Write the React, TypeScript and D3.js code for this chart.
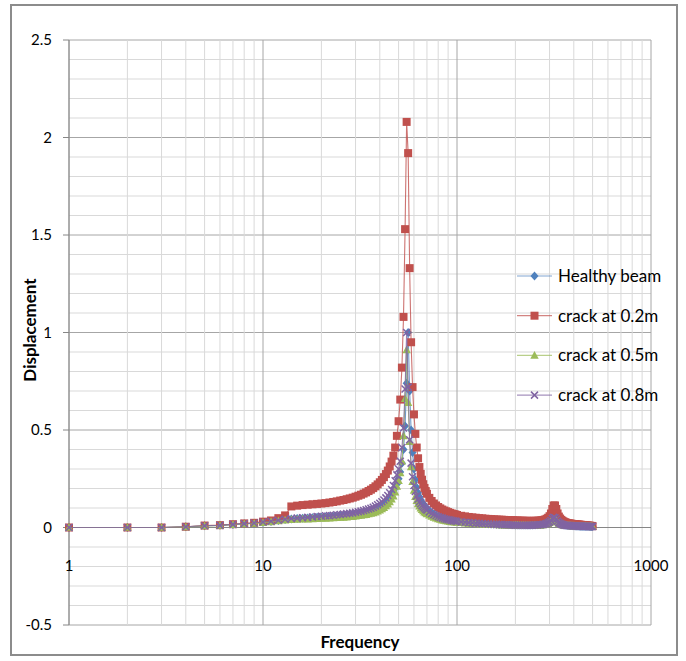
import * as d3 from "d3";

// frequency (Hz) of each computed point
const freqs = [
  1, 2, 3, 4, 5, 6, 7, 8, 9, 10,
  11, 12, 13, 14, 15, 16, 17, 18, 19, 20,
  21, 22, 23, 24, 25, 26, 27, 28, 29, 30,
  31, 32, 33, 34, 35, 36, 37, 38, 39, 40,
  41, 42, 43, 44, 45, 46, 47, 48, 49, 50,
  51, 52, 53, 54, 55, 56, 57, 58, 59, 60,
  61, 62, 63, 64, 65, 66, 67, 68, 69, 70,
  72, 74, 76, 78, 80, 82, 84, 86, 88, 90, 92, 94, 96, 98, 100,
  105, 110, 115, 120, 125, 130, 135, 140, 145, 150,
  155, 160, 165, 170, 175, 180, 185, 190, 195, 200,
  205, 210, 215, 220, 225, 230, 235, 240, 245, 250,
  255, 260, 265, 270, 275, 280, 285, 290, 295, 300,
  305, 310, 315, 320, 325, 330, 335, 340, 345, 350,
  355, 360, 365, 370, 375, 380, 385, 390, 395, 400,
  405, 410, 415, 420, 425, 430, 435, 440, 445, 450,
  455, 460, 465, 470, 475, 480, 485, 490, 495, 500,
];

const healthy = [
  0, 0, 0, 0.004, 0.009, 0.011, 0.016, 0.019, 0.022, 0.027,
  0.031, 0.036, 0.041, 0.044, 0.046, 0.047, 0.049, 0.05, 0.052, 0.053,
  0.054, 0.055, 0.057, 0.058, 0.06, 0.061, 0.063, 0.065, 0.067, 0.069,
  0.071, 0.074, 0.077, 0.08, 0.083, 0.087, 0.091, 0.096, 0.101, 0.107,
  0.114, 0.122, 0.131, 0.141, 0.153, 0.167, 0.183, 0.2, 0.222, 0.25,
  0.285, 0.33, 0.4, 0.52, 0.74, 1.0, 0.7, 0.5, 0.385, 0.3,
  0.245, 0.205, 0.178, 0.158, 0.142, 0.13, 0.12, 0.111, 0.103, 0.096,
  0.085, 0.076, 0.069, 0.063, 0.058, 0.054, 0.05, 0.047, 0.044, 0.042, 0.04, 0.038, 0.036, 0.034, 0.033,
  0.03, 0.028, 0.026, 0.025, 0.023, 0.022, 0.021, 0.02, 0.019, 0.018,
  0.018, 0.017, 0.016, 0.016, 0.015, 0.015, 0.014, 0.014, 0.014, 0.013,
  0.013, 0.013, 0.013, 0.013, 0.013, 0.013, 0.013, 0.013, 0.013, 0.014,
  0.014, 0.014, 0.015, 0.015, 0.016, 0.017, 0.019, 0.021, 0.025, 0.03,
  0.037, 0.045, 0.05, 0.05, 0.044, 0.034, 0.026, 0.021, 0.018, 0.016,
  0.014, 0.013, 0.012, 0.011, 0.011, 0.01, 0.01, 0.01, 0.009, 0.009,
  0.009, 0.008, 0.008, 0.008, 0.008, 0.007, 0.007, 0.007, 0.007, 0.007,
  0.006, 0.006, 0.006, 0.006, 0.006, 0.006, 0.005, 0.005, 0.005, 0.005,
];

const crack02 = [
  0, 0, 0, 0.004, 0.01, 0.012, 0.017, 0.021, 0.024, 0.03,
  0.036, 0.048, 0.062, 0.108, 0.112, 0.115, 0.117, 0.119, 0.121, 0.123,
  0.125, 0.128, 0.131, 0.134, 0.138, 0.141, 0.145, 0.149, 0.153, 0.158,
  0.163, 0.168, 0.174, 0.18, 0.187, 0.194, 0.202, 0.211, 0.221, 0.232,
  0.244, 0.258, 0.274, 0.292, 0.313, 0.338, 0.368, 0.41, 0.47, 0.545,
  0.656, 0.82, 1.08, 1.53, 2.08, 1.92, 1.33, 0.95, 0.72, 0.58,
  0.48, 0.41, 0.355, 0.31, 0.275, 0.245, 0.222, 0.203, 0.187, 0.173,
  0.152, 0.136, 0.123, 0.113, 0.105, 0.098, 0.092, 0.087, 0.083, 0.079, 0.075, 0.072, 0.069, 0.067, 0.064,
  0.06, 0.057, 0.054, 0.052, 0.05, 0.048, 0.047, 0.045, 0.044, 0.043,
  0.042, 0.041, 0.04, 0.04, 0.039, 0.038, 0.038, 0.037, 0.037, 0.036,
  0.036, 0.035, 0.035, 0.035, 0.034, 0.034, 0.034, 0.034, 0.034, 0.034,
  0.034, 0.035, 0.035, 0.036, 0.037, 0.039, 0.041, 0.045, 0.05, 0.058,
  0.072, 0.095, 0.113, 0.113, 0.095, 0.072, 0.056, 0.046, 0.039, 0.034,
  0.03, 0.027, 0.025, 0.023, 0.022, 0.021, 0.02, 0.019, 0.018, 0.017,
  0.017, 0.016, 0.016, 0.015, 0.015, 0.014, 0.014, 0.013, 0.013, 0.012,
  0.012, 0.011, 0.011, 0.01, 0.01, 0.009, 0.009, 0.008, 0.008, 0.007,
];

const crack05 = [
  0, 0, 0, 0.003, 0.008, 0.01, 0.015, 0.018, 0.021, 0.025,
  0.029, 0.033, 0.037, 0.04, 0.041, 0.042, 0.043, 0.044, 0.045, 0.046,
  0.047, 0.048, 0.049, 0.05, 0.051, 0.052, 0.053, 0.055, 0.056, 0.058,
  0.06, 0.062, 0.064, 0.066, 0.069, 0.072, 0.075, 0.079, 0.084, 0.089,
  0.095, 0.102, 0.11, 0.12, 0.131, 0.145, 0.161, 0.181, 0.21, 0.24,
  0.28, 0.34, 0.47, 0.66, 0.91, 0.64, 0.44, 0.31, 0.235, 0.19,
  0.158, 0.137, 0.121, 0.109, 0.099, 0.091, 0.085, 0.079, 0.074, 0.07,
  0.063, 0.057, 0.052, 0.048, 0.044, 0.041, 0.038, 0.036, 0.034, 0.032, 0.03, 0.029, 0.028, 0.027, 0.026,
  0.024, 0.022, 0.021, 0.02, 0.019, 0.018, 0.017, 0.016, 0.015, 0.015,
  0.014, 0.014, 0.013, 0.013, 0.012, 0.012, 0.012, 0.011, 0.011, 0.011,
  0.011, 0.01, 0.01, 0.01, 0.01, 0.01, 0.01, 0.01, 0.01, 0.011,
  0.011, 0.011, 0.012, 0.012, 0.013, 0.014, 0.015, 0.017, 0.02, 0.024,
  0.03, 0.036, 0.04, 0.039, 0.034, 0.027, 0.021, 0.017, 0.015, 0.013,
  0.012, 0.011, 0.01, 0.01, 0.009, 0.009, 0.009, 0.008, 0.008, 0.008,
  0.008, 0.007, 0.007, 0.007, 0.007, 0.007, 0.006, 0.006, 0.006, 0.006,
  0.006, 0.006, 0.005, 0.005, 0.005, 0.005, 0.005, 0.005, 0.005, 0.004,
];

const crack08 = [
  0, 0, 0, 0.004, 0.009, 0.011, 0.016, 0.02, 0.023, 0.028,
  0.032, 0.037, 0.042, 0.046, 0.048, 0.05, 0.052, 0.054, 0.056, 0.058,
  0.06, 0.061, 0.063, 0.065, 0.067, 0.069, 0.071, 0.073, 0.075, 0.078,
  0.081, 0.084, 0.087, 0.091, 0.095, 0.099, 0.104, 0.11, 0.117, 0.124,
  0.132, 0.141, 0.152, 0.164, 0.178, 0.195, 0.215, 0.24, 0.27, 0.3,
  0.34, 0.41, 0.51, 0.71, 1.0, 0.72, 0.45, 0.33, 0.26, 0.215,
  0.185, 0.162, 0.145, 0.132, 0.122, 0.113, 0.106, 0.1, 0.094, 0.089,
  0.08, 0.072, 0.066, 0.06, 0.055, 0.051, 0.048, 0.045, 0.042, 0.04, 0.038, 0.036, 0.034, 0.033, 0.031,
  0.029, 0.027, 0.025, 0.024, 0.022, 0.021, 0.02, 0.019, 0.018, 0.017,
  0.017, 0.016, 0.015, 0.015, 0.014, 0.014, 0.013, 0.013, 0.013, 0.012,
  0.012, 0.012, 0.012, 0.012, 0.012, 0.012, 0.012, 0.012, 0.012, 0.013,
  0.013, 0.013, 0.014, 0.014, 0.015, 0.016, 0.018, 0.02, 0.024, 0.029,
  0.036, 0.046, 0.052, 0.05, 0.042, 0.032, 0.025, 0.02, 0.017, 0.015,
  0.013, 0.012, 0.011, 0.011, 0.01, 0.01, 0.009, 0.009, 0.009, 0.008,
  0.008, 0.008, 0.008, 0.007, 0.007, 0.007, 0.007, 0.007, 0.006, 0.006,
  0.006, 0.006, 0.006, 0.006, 0.005, 0.005, 0.005, 0.005, 0.005, 0.005,
];

const seriesNames = ["Healthy beam", "crack at 0.2m", "crack at 0.5m", "crack at 0.8m"];
const seriesValues = [healthy, crack02, crack05, crack08];
const seriesColors = ["#4f81bd", "#c0504d", "#9bbb59", "#8064a2"];
const seriesMarkers = ["diamond", "square", "triangle", "cross"];

const yTicks = [-0.5, 0, 0.5, 1, 1.5, 2, 2.5];
const xTicks = [1, 10, 100, 1000];

const W = 686;
const H = 661;
const FONT = "Lato, 'Open Sans', sans-serif";

function Marker({ kind, x, y, color }: { kind: string; x: number; y: number; color: string }) {
  if (kind === "square") return <rect x={x - 4} y={y - 4} width={8} height={8} fill={color} />;
  if (kind === "diamond")
    return <path d={`M${x},${y - 4.5}L${x + 4},${y}L${x},${y + 4.5}L${x - 4},${y}Z`} fill={color} />;
  if (kind === "triangle")
    return <path d={`M${x},${y - 4.5}L${x + 4.2},${y + 3.3}L${x - 4.2},${y + 3.3}Z`} fill={color} />;
  return (
    <path d={`M${x - 3.5},${y - 3.5}L${x + 3.5},${y + 3.5}M${x + 3.5},${y - 3.5}L${x - 3.5},${y + 3.5}`} stroke={color} strokeWidth={1.5} fill="none" />
  );
}

export default function App() {
  const x = d3.scaleLog().domain([1, 1000]).range([69, 651]);
  const y = d3.scaleLinear().domain([-0.5, 2.5]).range([625, 40]);
  const line = d3
    .line<number>()
    .x((_, i) => x(freqs[i]))
    .y((d) => y(d));

  const vGrid: number[] = [];
  [1, 10, 100].forEach((dec) => d3.range(1, 10).forEach((k) => vGrid.push(dec * k)));
  vGrid.push(1000);
  const hGrid = d3.range(-5, 26).map((v) => v / 10);

  return (
    <svg width={W} height={H} style={{ position: "absolute", left: 0, top: 0 }} fontFamily={FONT}>
      <rect x={0} y={0} width={W} height={H} fill="#fff" />
      <rect x={11} y={5} width={666} height={650} fill="#fff" stroke="#8c8c8c" strokeWidth={2} />

      {hGrid.map((v) => {
        const major = Math.abs(v * 2 - Math.round(v * 2)) < 1e-6;
        return (
          <line key={"h" + v} x1={x(1)} x2={x(1000)} y1={y(v)} y2={y(v)}
            stroke={major ? "#a6a6a6" : "#d9d9d9"} strokeWidth={1} />
        );
      })}
      {vGrid.map((f) => {
        const major = xTicks.includes(f);
        return (
          <line key={"v" + f} x1={x(f)} x2={x(f)} y1={y(2.5)} y2={y(-0.5)}
            stroke={major ? "#a6a6a6" : "#d9d9d9"} strokeWidth={1} />
        );
      })}

      {/* axes */}
      <line x1={x(1)} x2={x(1)} y1={y(2.5)} y2={y(-0.5)} stroke="#868686" strokeWidth={1} />
      <line x1={x(1)} x2={x(1000)} y1={y(0)} y2={y(0)} stroke="#868686" strokeWidth={1} />
      {yTicks.map((t) => (
        <g key={"yt" + t}>
          <line x1={x(1) - 6} x2={x(1)} y1={y(t)} y2={y(t)} stroke="#868686" />
          <text x={52} y={y(t)} dy="0.35em" textAnchor="end" fontSize={15} fill="#000">
            {t}
          </text>
        </g>
      ))}
      {xTicks.map((t) => (
        <text key={"xt" + t} x={x(t)} y={566} dy="0.35em" textAnchor="middle" fontSize={15} fill="#000">
          {t}
        </text>
      ))}

      <text transform="translate(30,330) rotate(-90)" textAnchor="middle" dy="0.35em" fontSize={17} fontWeight="bold">
        Displacement
      </text>
      <text x={360} y={642} dy="0.35em" textAnchor="middle" fontSize={17} fontWeight="bold">
        Frequency
      </text>

      {/* series */}
      {seriesValues.map((vals, si) => (
        <g key={"s" + si}>
          <path d={line(vals) ?? ""} fill="none" stroke={seriesColors[si]} strokeWidth={1.1} strokeOpacity={0.8} />
          {vals.map((v, i) => (
            <Marker key={i} kind={seriesMarkers[si]} x={x(freqs[i])} y={y(v)} color={seriesColors[si]} />
          ))}
        </g>
      ))}

      {/* legend */}
      {seriesNames.map((name, si) => {
        const ly = 276 + si * 39.7;
        return (
          <g key={"lg" + si}>
            <line x1={517} x2={552} y1={ly} y2={ly} stroke={seriesColors[si]} strokeWidth={1.2} strokeOpacity={0.7} />
            <Marker kind={seriesMarkers[si]} x={534.5} y={ly} color={seriesColors[si]} />
            <text x={558} y={ly} dy="0.35em" fontSize={17} fill="#000">
              {name}
            </text>
          </g>
        );
      })}
    </svg>
  );
}
